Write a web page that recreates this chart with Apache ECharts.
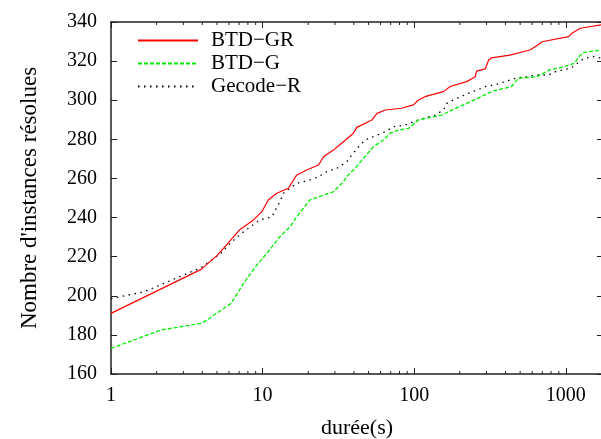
<!DOCTYPE html>
<html>
<head>
<meta charset="utf-8">
<script src="https://cdn.jsdelivr.net/npm/echarts@6/dist/echarts.min.js"></script>
<style>
html,body{margin:0;padding:0;background:#fff;}
#chart{width:601px;height:439px;}
</style>
</head>
<body>
<div id="chart"></div>
<script>
// ---- data ----
var seriesNames = ['BTD\u2212GR', 'BTD\u2212G', 'Gecode\u2212R'];

var gr_x = [1, 3.93, 5.06, 7.03, 8.71, 9.88, 10.9, 12.4, 14.8, 16.8, 19.5, 23.4, 25.2, 29.3, 34.1, 39.7, 41.8, 52.6, 56.9, 64.4, 82.6, 98.9, 106.6, 117.7, 156, 172.7, 222, 253, 258, 294, 310, 324, 428, 580, 643, 698, 1042, 1098, 1246, 1760];
var gr_y = [191, 213.5, 220.9, 233.6, 238.8, 243, 249, 252.4, 255, 261.8, 264.3, 266.9, 271.1, 274.5, 278.8, 283.1, 286.1, 289.9, 293.3, 295, 295.9, 297.6, 300.1, 301.8, 304.4, 307, 309.5, 312, 314.9, 316, 320.6, 321.7, 323.1, 325.7, 327.9, 329.9, 332.5, 334.2, 336.8, 338.7];

var g_x = [1, 2.14, 3.93, 4.29, 6.2, 7.5, 9.15, 10.66, 13, 15.2, 16.8, 20.5, 25.2, 29.3, 34.1, 36.7, 40.8, 46.3, 53.9, 62.6, 69.4, 76.7, 91.8, 106.6, 127, 152, 181, 211, 234, 331, 437, 486, 643, 782, 915, 1143, 1222, 1320, 1760];
var g_y = [173.1, 182.5, 185.9, 187.6, 196.1, 206.4, 215.7, 221.7, 230.2, 235.3, 240.4, 249, 251.5, 253.2, 258.3, 261.8, 265.2, 270.3, 276.2, 279.7, 283.1, 284.4, 285.6, 289.9, 291.2, 292.4, 295.3, 297.6, 299.2, 304.7, 306.9, 311.2, 312, 315.5, 316.6, 318.9, 322.3, 324.5, 325.7];

var gc_x = [1, 1.66, 3.93, 5.3, 6.1, 7.5, 9.6, 11.5, 13.0, 13.7, 16.8, 20.5, 23.4, 26.5, 30.9, 36, 38.8, 43, 47.5, 53.9, 64.4, 73, 87.3, 98.9, 115, 137.5, 156, 164, 191, 228, 294, 351, 409, 478, 555, 643, 767, 873, 1076, 1192, 1320, 1540, 1760];
var gc_y = [198.5, 202.1, 214.4, 221.7, 226.8, 232.8, 238.8, 240.4, 248.1, 252.4, 257.5, 259.2, 260.9, 263.5, 265.2, 268.6, 272, 276.2, 279.7, 281.4, 283.9, 286.5, 287.3, 289, 290.7, 292.4, 295, 298.4, 301, 303.5, 306.9, 308.2, 309.8, 311.5, 312, 312.9, 312.9, 314.9, 316.3, 318.9, 321.4, 322.3, 321.4];

var xMin = 1, xMax = 1760;
var yMin = 160, yMax = 340, yStep = 20;
var minorTickValues = [2,3,4,5,6,7,8,9,20,30,40,50,60,70,80,90,200,300,400,500,600,700,800,900];

function pairs(xs, ys){ return xs.map(function(x,i){ return [x, ys[i]]; }); }

var FONT = '"Liberation Serif", "DejaVu Serif", serif';
var AX = '#222';

var chart = echarts.init(document.getElementById('chart'), null, {renderer:'canvas'});
var option = {
  animation: false,
  backgroundColor: '#fff',
  textStyle: {fontFamily: FONT},
  grid: {left: 111, right: -2, top: 22, bottom: 65, containLabel: false, outerBoundsMode: 'none'},
  legend: {
    show: true, orient: 'vertical', left: 137, top: 29.5, padding: 0,
    itemWidth: 60, itemHeight: 12, itemGap: 1,
    data: seriesNames,
    itemStyle: {opacity: 0},
    textStyle: {fontFamily: FONT, fontSize: 21, color: '#000', padding: [0,0,0,8], lineHeight: 22}
  },
  xAxis: [{
    type: 'log', logBase: 10, min: xMin, max: xMax, position: 'bottom',
    name: 'durée(s)', nameLocation: 'middle', nameGap: 43,
    nameTextStyle: {fontFamily: FONT, fontSize: 22, color: '#000'},
    axisLine: {lineStyle: {color: AX, width: 1.5}},
    axisTick: {inside: true, length: 6, lineStyle: {color: AX, width: 1}},
    axisLabel: {fontFamily: FONT, fontSize: 20, color: '#000', margin: 12,
      formatter: function(v){ return String(Math.round(v)); }},
    splitLine: {show: false}
  },{
    type: 'log', logBase: 10, min: xMin, max: xMax, position: 'top',
    axisLine: {lineStyle: {color: AX, width: 1.5}},
    axisTick: {inside: true, length: 6, lineStyle: {color: AX, width: 1}},
    axisLabel: {show: false}, splitLine: {show: false}
  }],
  yAxis: [{
    type: 'value', min: yMin, max: yMax, interval: yStep, position: 'left',
    name: "Nombre d'instances résolues", nameLocation: 'middle', nameGap: 70, nameRotate: 90,
    nameTextStyle: {fontFamily: FONT, fontSize: 23, color: '#000'},
    axisLine: {show: true, lineStyle: {color: AX, width: 1.5}},
    axisTick: {show: true, inside: true, length: 6, lineStyle: {color: AX, width: 1}},
    axisLabel: {fontFamily: FONT, fontSize: 20, color: '#000', margin: 14},
    splitLine: {show: false}
  },{
    type: 'value', min: yMin, max: yMax, interval: yStep, position: 'right',
    axisLine: {show: true, lineStyle: {color: AX, width: 1.5}},
    axisTick: {show: true, inside: true, length: 6, lineStyle: {color: AX, width: 1}},
    axisLabel: {show: false}, splitLine: {show: false}
  }],
  series: [{
    name: seriesNames[0], type: 'line', data: pairs(gr_x, gr_y), showSymbol: false, symbol: 'none',
    lineStyle: {color: '#ff0000', width: 1.2, type: 'solid'}, itemStyle: {color: '#ff0000'}, z: 5
  },{
    name: seriesNames[1], type: 'line', data: pairs(g_x, g_y), showSymbol: false, symbol: 'none',
    lineStyle: {color: '#00ee00', width: 1.3, type: [4, 2]}, itemStyle: {color: '#00ee00'}, z: 4
  },{
    name: seriesNames[2], type: 'line', data: pairs(gc_x, gc_y), showSymbol: false, symbol: 'none',
    lineStyle: {color: '#000', width: 1.3, type: [1.5, 4.5]}, itemStyle: {color: '#000'}, z: 3
  },{
    name: 'minorTicks', type: 'custom', silent: true, z: 6,
    data: minorTickValues.map(function(v){ return [v]; }),
    renderItem: function(params, api){
      var v = api.value(0);
      var pb = api.coord([v, yMin]);
      var pt = api.coord([v, yMax]);
      return {type: 'group', children: [
        {type: 'line', shape: {x1: pb[0], y1: pb[1], x2: pb[0], y2: pb[1]-3}, style: {stroke: AX, lineWidth: 1}},
        {type: 'line', shape: {x1: pt[0], y1: pt[1], x2: pt[0], y2: pt[1]+3}, style: {stroke: AX, lineWidth: 1}}
      ]};
    }
  }]
};
chart.setOption(option);
</script>
</body>
</html>
